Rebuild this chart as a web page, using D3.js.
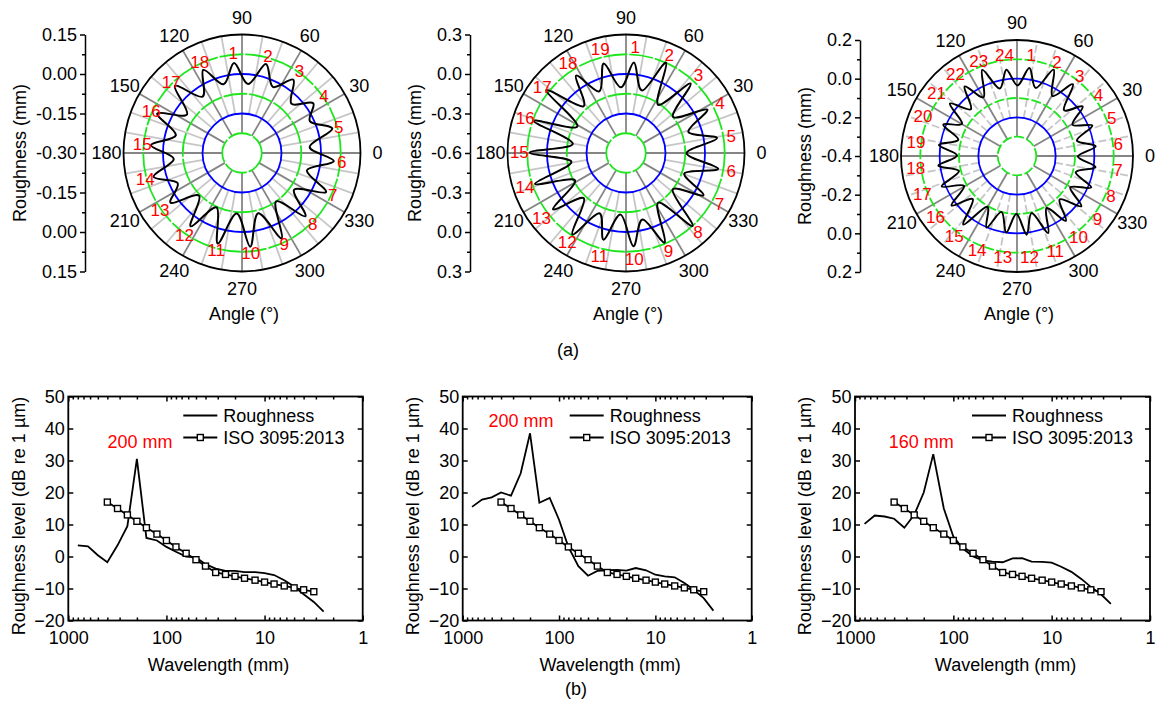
<!DOCTYPE html>
<html>
<head>
<meta charset="utf-8">
<script src="https://cdn.jsdelivr.net/npm/d3@7"></script>
<style>
  body { margin: 0; background: #fff; }
</style>
</head>
<body>
<div id="chart"></div>
<script>
// ---------------- data ----------------

// polar plots (a): angle ticks and radial ticks
var angleTicks = [0, 30, 60, 90, 120, 150, 180, 210, 240, 270, 300, 330];
var p1Ticks = [-0.30, -0.15, 0.00, 0.15];
var p2Ticks = [-0.6, -0.3, 0.0, 0.3];
var p3Ticks = [-0.4, -0.2, 0.0, 0.2];

// reference rings (blue = major, green = minor)
var p1Blue = [-0.15, 0.00];
var p1Green = [-0.225, -0.075, 0.075];
var p2Blue = [-0.3, 0.0];
var p2Green = [-0.45, -0.15, 0.15];
var p3Blue = [-0.2, 0.0];
var p3Green = [-0.3, -0.1, 0.1];

// roughness lobes: value at each numbered peak and at the trough after it
var p1Peaks = [0.043, 0.050, 0.040, 0.030, 0.055, 0.050, 0.052, 0.040, 0.057, 0.057, 0.056, 0.040, 0.030, 0.048, 0.047, 0.055, 0.060, 0.048];
var p1Troughs = [-0.037, -0.023, -0.035, -0.015, -0.042, -0.045, -0.058, -0.075, -0.063, -0.069, -0.072, -0.070, -0.030, -0.040, -0.040, -0.045, -0.039, -0.030];

var p2Peaks = [0.09, 0.15, 0.12, 0.10, 0.10, 0.11, 0.07, 0.15, 0.14, 0.11, 0.08, 0.14, 0.10, 0.13, 0.13, 0.14, 0.17, 0.10, 0.10];
var p2Troughs = [-0.11, -0.16, -0.15, -0.10, -0.14, -0.13, -0.15, -0.15, -0.08, -0.13, -0.10, -0.13, -0.16, -0.18, -0.19, -0.18, -0.12, -0.09, -0.10];

var p3Peaks = [0.060, 0.085, 0.070, 0.025, 0.020, 0.010, 0.010, 0.017, 0.022, 0.020, 0.030, 0.010, 0.000, 0.002, 0.050, 0.024, 0.020, 0.010, 0.008, 0.014, 0.040, 0.050, 0.080, 0.050];
var p3Troughs = [-0.035, -0.040, -0.060, -0.070, -0.080, -0.085, -0.085, -0.080, -0.085, -0.090, -0.095, -0.100, -0.100, -0.095, -0.080, -0.085, -0.090, -0.090, -0.085, -0.070, -0.060, -0.050, -0.040, -0.035];

// spectra (b): 1/3 octave band wavelengths (mm)
var bands = [800, 630, 500, 400, 315, 250, 200, 160, 125, 100, 80, 63, 50, 40, 31.5, 25, 20, 16, 12.5, 10, 8, 6.3, 5, 4, 3.15, 2.5];
var rough1 = [3.5, 3.2, 0.4, -1.8, 3.5, 9.5, 30.5, 5.8, 5.0, 3.0, 1.5, 0.0, -0.3, -2.4, -3.8, -4.5, -4.5, -4.9, -4.9, -5.2, -5.8, -7.4, -9.4, -11.8, -14.2, -17.2];
var rough2 = [15.5, 17.8, 18.5, 20.0, 19.0, 26.0, 38.5, 16.8, 18.3, 11.5, 3.0, -3.0, -6.0, -4.5, -4.3, -4.2, -4.4, -3.6, -4.3, -5.7, -6.2, -6.5, -8.3, -10.4, -13.0, -16.9];
var rough3 = [10.2, 12.8, 12.5, 11.8, 9.0, 13.0, 20.0, 32.0, 15.0, 6.2, 2.5, 0.0, -1.2, -1.6, -1.8, -0.6, -0.5, -1.6, -1.7, -1.9, -3.2, -4.8, -7.0, -9.5, -11.8, -14.8];

// ISO 3095:2013 limit spectrum
var isoBands = [400, 315, 250, 200, 160, 125, 100, 80, 63, 50, 40, 31.5, 25, 20, 16, 12.5, 10, 8, 6.3, 5, 4, 3.15];
var isoLimit = [17, 15, 13, 11, 9, 7, 5, 3, 1, -1, -3, -5, -5.6, -6.2, -6.8, -7.4, -8, -8.6, -9.2, -9.8, -10.4, -11];

var xMajor = [1000, 100, 10, 1];
var yMajor = [-20, -10, 0, 10, 20, 30, 40, 50];
var peakLabels = ["200 mm", "200 mm", "160 mm"];
var peakBands = [200, 200, 160];

// ---------------- chart ----------------

var svgWidth = 1161;
var svgHeight = 704;
var font = '"Liberation Sans", Arial, Helvetica, sans-serif';
var rad = Math.PI / 180;

var svg = d3.select("#chart")
    .append("svg")
    .attr("width", svgWidth)
    .attr("height", svgHeight)
    .style("font-family", font);

function styleAxis(sel) {
    sel.attr("font-family", font).attr("font-size", 18);
    sel.selectAll("line").attr("stroke", "#000").attr("stroke-width", 1.5);
    sel.selectAll("path").attr("stroke", "#000").attr("stroke-width", 1.5);
}

function drawPolar(p) {
    var g = svg.append("g");
    var r = d3.scaleLinear().domain([p.min, p.max]).range([0, p.R]);
    var px = (a, rr) => p.cx + rr * Math.cos(a * rad);
    var py = (a, rr) => p.cy - rr * Math.sin(a * rad);
    var fmt = d => d3.format(p.fmt)(Math.abs(d) < 1e-9 ? 0 : d).replace("\u2212", "-");

    // spokes every 10 deg, darker every 30 deg
    g.selectAll(".spoke")
        .data(d3.range(0, 360, 10))
        .enter()
        .append("line")
        .attr("x1", d => px(d, d % 30 === 0 ? r(p.green[0]) : r(p.blue[0])))
        .attr("y1", d => py(d, d % 30 === 0 ? r(p.green[0]) : r(p.blue[0])))
        .attr("x2", d => px(d, p.R))
        .attr("y2", d => py(d, p.R))
        .attr("stroke", d => d % 30 === 0 ? "#858585" : "#c6c6c6")
        .attr("stroke-width", 1.8)
        .attr("stroke-dasharray", d => (d % 30 !== 0 && p.dashed) ? "8,3" : null);

    // rings
    g.selectAll(".green")
        .data(p.green)
        .enter()
        .append("circle")
        .attr("cx", p.cx).attr("cy", p.cy)
        .attr("r", d => r(d))
        .attr("fill", "none")
        .attr("stroke", "#1ee61e")
        .attr("stroke-width", 1.8)
        .attr("stroke-dasharray", p.dashed ? "10,2.5" : "24,2");

    g.selectAll(".blue")
        .data(p.blue)
        .enter()
        .append("circle")
        .attr("cx", p.cx).attr("cy", p.cy)
        .attr("r", d => r(d))
        .attr("fill", "none")
        .attr("stroke", "#0000ff")
        .attr("stroke-width", 1.8);

    g.append("circle")
        .attr("cx", p.cx).attr("cy", p.cy)
        .attr("r", p.R)
        .attr("fill", "none")
        .attr("stroke", "#000")
        .attr("stroke-width", 1.8);

    // roughness curve through peaks and troughs
    var n = p.peaks.length;
    var step = 360 / n;
    var pts = [];
    p.peaks.forEach(function (v, i) {
        pts.push([p.start - i * step, v]);
        pts.push([p.start - (i + 0.5) * step, p.troughs[i]]);
    });
    var line = d3.lineRadial()
        .angle(d => (90 - d[0]) * rad)
        .radius(d => r(d[1]))
        .curve(d3.curveCardinalClosed.tension(0));
    g.append("path")
        .attr("transform", `translate(${p.cx},${p.cy})`)
        .attr("d", line(pts))
        .attr("fill", "none")
        .attr("stroke", "#000")
        .attr("stroke-width", 2);

    // numbered lobes
    g.selectAll(".num")
        .data(p.peaks)
        .enter()
        .append("text")
        .attr("x", (d, i) => px(p.start - i * step, p.R * p.labelR))
        .attr("y", (d, i) => py(p.start - i * step, p.R * p.labelR))
        .attr("dy", "0.35em")
        .attr("text-anchor", "middle")
        .attr("font-size", 17)
        .attr("fill", "#ff0000")
        .text((d, i) => i + 1);

    // angle labels
    g.selectAll(".ang")
        .data(angleTicks)
        .enter()
        .append("text")
        .attr("x", d => px(d, p.R + 17))
        .attr("y", d => py(d, p.R + 17))
        .attr("dy", "0.35em")
        .attr("text-anchor", "middle")
        .attr("font-size", 18)
        .text(d => d);

    g.append("text")
        .attr("x", p.cx + 2)
        .attr("y", p.cy + p.R + 48)
        .attr("text-anchor", "middle")
        .attr("font-size", 18)
        .text("Angle (\u00b0)");

    // mirrored radial axis on the left
    var topY = d3.scaleLinear().domain([p.min, p.max]).range([p.cy, p.cy - p.R]);
    var botY = d3.scaleLinear().domain([p.min, p.max]).range([p.cy, p.cy + p.R]);

    [topY, botY].forEach(function (sc, k) {
        g.append("g")
            .attr("transform", `translate(${p.axisX},0)`)
            .call(d3.axisLeft(sc).tickValues(p.green).tickFormat("").tickSize(3).tickSizeOuter(0))
            .call(a => a.select(".domain").remove())
            .call(styleAxis);
        g.append("g")
            .attr("transform", `translate(${p.axisX},0)`)
            .call(d3.axisLeft(sc).tickValues(k === 0 ? p.ticks : p.ticks.slice(1))
                .tickFormat(fmt).tickSize(5).tickPadding(3).tickSizeOuter(0))
            .call(styleAxis);
    });

    g.append("text")
        .attr("transform", `translate(${p.titleX},${p.cy}) rotate(-90)`)
        .attr("dy", "0.35em")
        .attr("text-anchor", "middle")
        .attr("font-size", 18)
        .text("Roughness (mm)");
}

drawPolar({ cx: 242, cy: 153, R: 118.5, axisX: 85, titleX: 20, min: -0.30, max: 0.15, ticks: p1Ticks, fmt: ".2f",
    blue: p1Blue, green: p1Green, start: 95, peaks: p1Peaks, troughs: p1Troughs, labelR: 0.845, dashed: false });
drawPolar({ cx: 626, cy: 153, R: 118.5, axisX: 470, titleX: 415, min: -0.6, max: 0.3, ticks: p2Ticks, fmt: ".1f",
    blue: p2Blue, green: p2Green, start: 85, peaks: p2Peaks, troughs: p2Troughs, labelR: 0.9, dashed: false });
drawPolar({ cx: 1017, cy: 156, R: 116, axisX: 860, titleX: 805, min: -0.4, max: 0.2, ticks: p3Ticks, fmt: ".1f",
    blue: p3Blue, green: p3Green, start: 82, peaks: p3Peaks, troughs: p3Troughs, labelR: 0.88, dashed: true });

// ---------------- spectra ----------------
var specTop = 396.5;
var specBottom = 620.5;
var xMinor = [].concat(...[1, 10, 100].map(m => d3.range(2, 10).map(k => k * m)));

function drawSpectrum(b, idx) {
    var x = d3.scaleLog().domain([1000, 1]).range([b.x0, b.x1]);
    var y = d3.scaleLinear().domain([-20, 50]).range([specBottom, specTop]);
    var g = svg.append("g");

    // inward ticks on all four sides
    g.append("g").attr("transform", `translate(0,${specBottom})`)
        .call(d3.axisBottom(x).tickValues(xMinor).tickFormat("").tickSize(-3).tickSizeOuter(0))
        .call(a => a.select(".domain").remove()).call(styleAxis);
    g.append("g").attr("transform", `translate(0,${specBottom})`)
        .call(d3.axisBottom(x).tickValues(xMajor).tickFormat(d => d).tickSize(-5).tickPadding(11).tickSizeOuter(0))
        .call(a => a.select(".domain").remove()).call(styleAxis);
    g.append("g").attr("transform", `translate(0,${specTop})`)
        .call(d3.axisTop(x).tickValues(xMinor).tickFormat("").tickSize(-3).tickSizeOuter(0))
        .call(a => a.select(".domain").remove()).call(styleAxis);
    g.append("g").attr("transform", `translate(0,${specTop})`)
        .call(d3.axisTop(x).tickValues(xMajor).tickFormat("").tickSize(-5).tickSizeOuter(0))
        .call(a => a.select(".domain").remove()).call(styleAxis);
    g.append("g").attr("transform", `translate(${b.x0},0)`)
        .call(d3.axisLeft(y).tickValues(yMajor).tickSize(-5).tickPadding(3.5).tickSizeOuter(0))
        .call(a => a.select(".domain").remove()).call(styleAxis);
    g.append("g").attr("transform", `translate(${b.x1},0)`)
        .call(d3.axisRight(y).tickValues(yMajor).tickFormat("").tickSize(-5).tickSizeOuter(0))
        .call(a => a.select(".domain").remove()).call(styleAxis);

    g.append("rect")
        .attr("x", b.x0).attr("y", specTop)
        .attr("width", b.x1 - b.x0).attr("height", specBottom - specTop)
        .attr("fill", "none")
        .attr("stroke", "#000")
        .attr("stroke-width", 1.8);

    var line = d3.line().x(d => x(d[0])).y(d => y(d[1]));

    g.append("path")
        .attr("d", line(bands.map((w, i) => [w, b.rough[i]])))
        .attr("fill", "none")
        .attr("stroke", "#000")
        .attr("stroke-width", 1.8);

    g.append("path")
        .attr("d", line(isoBands.map((w, i) => [w, isoLimit[i]])))
        .attr("fill", "none")
        .attr("stroke", "#000")
        .attr("stroke-width", 1.8);

    g.selectAll(".sq")
        .data(isoBands)
        .enter()
        .append("rect")
        .attr("x", d => x(d) - 3)
        .attr("y", (d, i) => y(isoLimit[i]) - 3)
        .attr("width", 6).attr("height", 6)
        .attr("fill", "#fff")
        .attr("stroke", "#000")
        .attr("stroke-width", 1.4);

    // peak annotation
    var pk = bands.indexOf(peakBands[idx]);
    g.append("text")
        .attr("x", x(peakBands[idx]) + b.pdx)
        .attr("y", y(b.rough[pk]) - b.pdy)
        .attr("text-anchor", "middle")
        .attr("font-size", 18)
        .attr("fill", "#ff0000")
        .text(peakLabels[idx]);

    // legend
    var lx = b.x0 + b.legX;
    var ly1 = 415.5, ly2 = 437.5;
    g.append("line").attr("x1", lx).attr("x2", lx + 34).attr("y1", ly1).attr("y2", ly1)
        .attr("stroke", "#000").attr("stroke-width", 1.8);
    g.append("line").attr("x1", lx).attr("x2", lx + 34).attr("y1", ly2).attr("y2", ly2)
        .attr("stroke", "#000").attr("stroke-width", 1.8);
    g.append("rect").attr("x", lx + 17 - 3).attr("y", ly2 - 3).attr("width", 6).attr("height", 6)
        .attr("fill", "#fff").attr("stroke", "#000").attr("stroke-width", 1.4);
    g.append("text").attr("x", lx + 40).attr("y", ly1).attr("dy", "0.35em")
        .attr("font-size", 18).text("Roughness");
    g.append("text").attr("x", lx + 40).attr("y", ly2).attr("dy", "0.35em")
        .attr("font-size", 18).text("ISO 3095:2013");

    // axis titles
    g.append("text")
        .attr("x", (b.x0 + b.x1) / 2 + 3)
        .attr("y", 671)
        .attr("text-anchor", "middle")
        .attr("font-size", 18)
        .text("Wavelength (mm)");
    g.append("text")
        .attr("transform", `translate(${b.x0 - 50},516) rotate(-90)`)
        .attr("dy", "0.35em")
        .attr("text-anchor", "middle")
        .attr("font-size", 18)
        .text("Roughness level (dB re 1 \u00b5m)");
}

drawSpectrum({ x0: 68.3, x1: 362.7, rough: rough1, legX: 115, pdx: 3, pdy: 11 }, 0);
drawSpectrum({ x0: 462.7, x1: 751.7, rough: rough2, legX: 107, pdx: -9, pdy: 6 }, 1);
drawSpectrum({ x0: 855, x1: 1150, rough: rough3, legX: 117, pdx: -12, pdy: 6 }, 2);

// captions
svg.append("text").attr("x", 568).attr("y", 356).attr("text-anchor", "middle")
    .attr("font-size", 18).text("(a)");
svg.append("text").attr("x", 576).attr("y", 695).attr("text-anchor", "middle")
    .attr("font-size", 18).text("(b)");
</script>
</body>
</html>
